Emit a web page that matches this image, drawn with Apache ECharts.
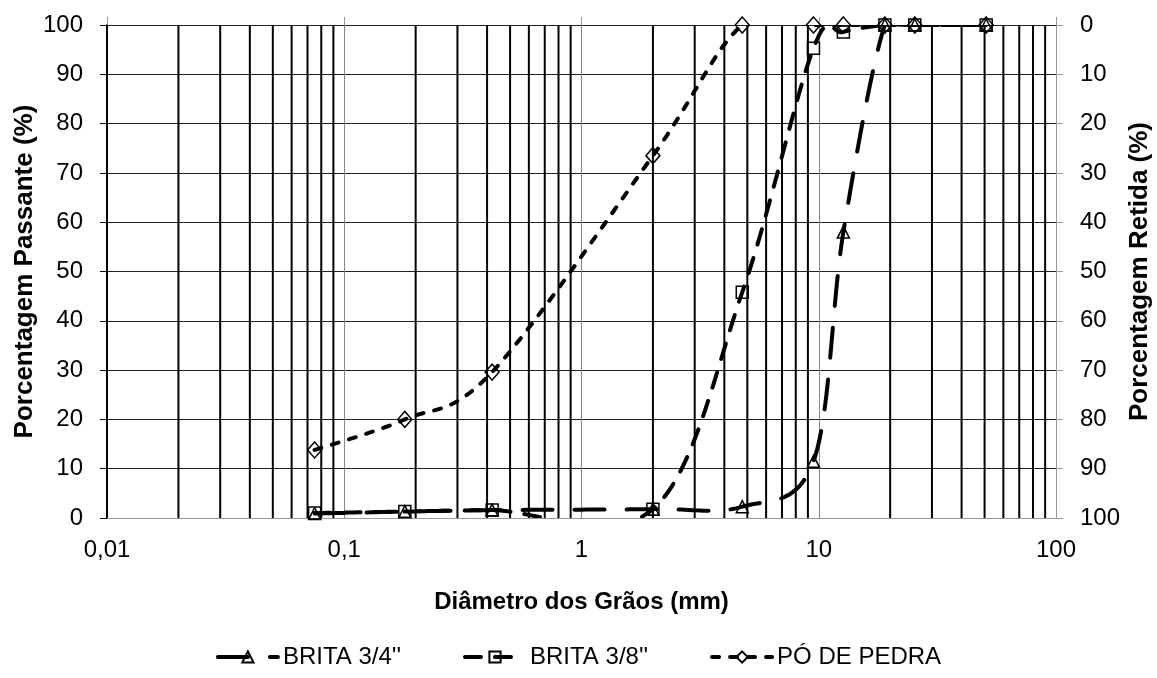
<!DOCTYPE html>
<html>
<head>
<meta charset="utf-8">
<script src="https://cdn.jsdelivr.net/npm/echarts@6/dist/echarts.min.js"></script>
<style>
  html, body { margin: 0; padding: 0; background: #fff; }
  #chart { width: 1157px; height: 678px; }
</style>
</head>
<body>
<div id="chart"></div>
<script>
// Sieve openings (mm) and percentage passing for each aggregate
const sieveSizes = [0.075, 0.18, 0.42, 2.0, 4.76, 9.5, 12.7, 19.0, 25.4, 50.8];
const brita34   = [0.9, 1.3, 1.6, 1.8, 2.3, 11.5, 58.0, 100, 100, 100];
const brita38   = [1.0, 1.3, 1.6, 1.8, 45.8, 95.3, 98.6, 100, 100, 100];
const poDePedra = [13.8, 20.0, 29.6, 73.5, 100, 100, 100, 100, 100, 100];

const seriesNames = ["BRITA 3/4''", "BRITA 3/8''", "PÓ DE PEDRA"];
const xTickLabels = ["0,01", "0,1", "1", "10", "100"];
const xTickValues = [0.01, 0.1, 1, 10, 100];

// Intermediate log-scale grid positions (2..9 within each decade)
const decades = [0.01, 0.1, 1, 10];
const multipliers = [2, 3, 4, 5, 6, 7, 8, 9];
const minorGridValues = [];
decades.forEach(d => multipliers.forEach(m => minorGridValues.push(+(d * m).toPrecision(6))));

const FONT = "'Liberation Sans', Arial, sans-serif";

const curveStyles = [
  { values: brita34,   dash: [30, 22], symbol: 'triangle', size: 12 },
  { values: brita38,   dash: [16, 14], symbol: 'rect',     size: 12 },
  { values: poDePedra, dash: [7, 11],  symbol: 'diamond',  size: [14, 16] }
];
const LINE_WIDTH = 4;

function pairs(values) {
  return sieveSizes.map((x, i) => [x, values[i]]);
}

function xLabel(v) {
  const idx = xTickValues.findIndex(t => Math.abs(Math.log10(t) - Math.log10(v)) < 1e-6);
  return idx >= 0 ? xTickLabels[idx] : '';
}

// Cardinal-spline (Bezier) path through screen points, sampled as a polyline
function smoothPolyline(pts) {
  const out = [pts[0]];
  const steps = 24;
  for (let i = 0; i < pts.length - 1; i++) {
    const p0 = pts[i - 1] || pts[i];
    const p1 = pts[i];
    const p2 = pts[i + 1];
    const p3 = pts[i + 2] || pts[i + 1];
    const c1 = [p1[0] + (p2[0] - p0[0]) / 6, p1[1] + (p2[1] - p0[1]) / 6];
    const c2 = [p2[0] - (p3[0] - p1[0]) / 6, p2[1] - (p3[1] - p1[1]) / 6];
    for (let s = 1; s <= steps; s++) {
      const t = s / steps, u = 1 - t;
      out.push([
        u * u * u * p1[0] + 3 * u * u * t * c1[0] + 3 * u * t * t * c2[0] + t * t * t * p2[0],
        u * u * u * p1[1] + 3 * u * u * t * c1[1] + 3 * u * t * t * c2[1] + t * t * t * p2[1]
      ]);
    }
  }
  return out;
}

const chart = echarts.init(document.getElementById('chart'), null, { renderer: 'canvas' });

const markerStyle = {
  color: 'rgba(255,255,255,0)',
  borderColor: '#000',
  borderWidth: 1.5
};

const curveSeries = curveStyles.map(cs => ({
  type: 'custom',
  silent: true,
  clip: true,
  z: 2,
  xAxisIndex: 0,
  yAxisIndex: 0,
  data: pairs(cs.values),
  encode: { x: 0, y: 1 },
  renderItem: function (params, api) {
    if (params.dataIndex !== 0) return null;
    const pts = sieveSizes.map((x, i) => api.coord([x, cs.values[i]]));
    return {
      type: 'polyline',
      shape: { points: smoothPolyline(pts) },
      style: { stroke: '#000', fill: 'none', lineWidth: LINE_WIDTH, lineDash: cs.dash, lineCap: 'round', lineJoin: 'round' }
    };
  }
}));

const markerSeries = curveStyles.map((cs, k) => ({
  name: seriesNames[k],
  type: 'line',
  z: 3,
  data: pairs(cs.values),
  symbol: cs.symbol,
  symbolSize: cs.size,
  showAllSymbol: true,
  itemStyle: markerStyle,
  lineStyle: { color: '#000', width: LINE_WIDTH, type: cs.dash, opacity: 0 }
}));

chart.setOption({
  animation: false,
  backgroundColor: '#fff',
  textStyle: { fontFamily: FONT, color: '#000' },
  grid: { left: 107, right: 101, top: 25, bottom: 160, containLabel: false, outerBoundsMode: 'none' },
  legend: {
    data: seriesNames.map((n, k) => ({
      name: n,
      lineStyle: { opacity: 1, color: '#000', width: LINE_WIDTH, type: curveStyles[k].dash, cap: 'round' }
    })),
    top: 640,
    left: 'center',
    itemWidth: 60,
    itemHeight: 14,
    itemGap: 62,
    textStyle: { fontFamily: FONT, fontSize: 24, color: '#000' }
  },
  xAxis: [
    {
      type: 'log',
      logBase: 10,
      min: 0.01,
      max: 100,
      position: 'bottom',
      name: 'Diâmetro dos Grãos (mm)',
      nameLocation: 'middle',
      nameGap: 72,
      nameMoveOverlap: false,
      nameTextStyle: { fontFamily: FONT, fontSize: 24, fontWeight: 'bold', color: '#000' },
      axisLine: { show: true, lineStyle: { color: '#999', width: 1 } },
      axisTick: { show: false },
      axisLabel: { fontFamily: FONT, fontSize: 24, color: '#000', margin: 20, formatter: xLabel },
      splitLine: { show: true, lineStyle: { color: '#888', width: 1 } },
      minorTick: { show: false },
      minorSplitLine: { show: false }
    },
    {
      type: 'log',
      logBase: 10,
      min: 0.01,
      max: 100,
      position: 'top',
      axisLine: { show: false },
      axisTick: { show: true, inside: false, length: 8, lineStyle: { color: '#999', width: 1 } },
      axisLabel: { show: false },
      splitLine: { show: false }
    }
  ],
  yAxis: [
    {
      type: 'value',
      min: 0,
      max: 100,
      interval: 10,
      position: 'left',
      name: 'Porcentagem Passante (%)',
      nameLocation: 'middle',
      nameRotate: 90,
      nameGap: 69,
      nameMoveOverlap: false,
      nameTextStyle: { fontFamily: FONT, fontSize: 26, fontWeight: 'bold', color: '#000' },
      axisLine: { show: true, lineStyle: { color: '#000', width: 2 } },
      axisTick: { show: true, inside: false, length: 7, lineStyle: { color: '#000', width: 1 } },
      axisLabel: { fontFamily: FONT, fontSize: 24, color: '#000', margin: 24 },
      splitLine: { show: true, lineStyle: { color: '#222', width: 1 } }
    },
    {
      type: 'value',
      min: 0,
      max: 100,
      interval: 10,
      inverse: true,
      position: 'right',
      name: 'Porcentagem Retida (%)',
      nameLocation: 'middle',
      nameRotate: 90,
      nameGap: 71,
      nameMoveOverlap: false,
      nameTextStyle: { fontFamily: FONT, fontSize: 26, fontWeight: 'bold', color: '#000' },
      axisLine: { show: true, lineStyle: { color: '#999', width: 1 } },
      axisTick: { show: true, inside: false, length: 7, lineStyle: { color: '#999', width: 1 } },
      axisLabel: { fontFamily: FONT, fontSize: 24, color: '#000', margin: 24 },
      splitLine: { show: false }
    }
  ],
  series: [
    {
      // Heavy vertical grid lines at 2..9 of every decade
      type: 'custom',
      silent: true,
      z: 1,
      xAxisIndex: 0,
      yAxisIndex: 0,
      data: minorGridValues.map(v => [v, 0]),
      encode: { x: 0, y: 1 },
      renderItem: function (params, api) {
        const v = api.value(0);
        const bottom = api.coord([v, 0]);
        const top = api.coord([v, 100]);
        return {
          type: 'line',
          shape: { x1: bottom[0], y1: bottom[1], x2: top[0], y2: top[1] },
          style: { stroke: '#000', lineWidth: 2 }
        };
      }
    }
  ].concat(curveSeries, markerSeries)
});
</script>
</body>
</html>
